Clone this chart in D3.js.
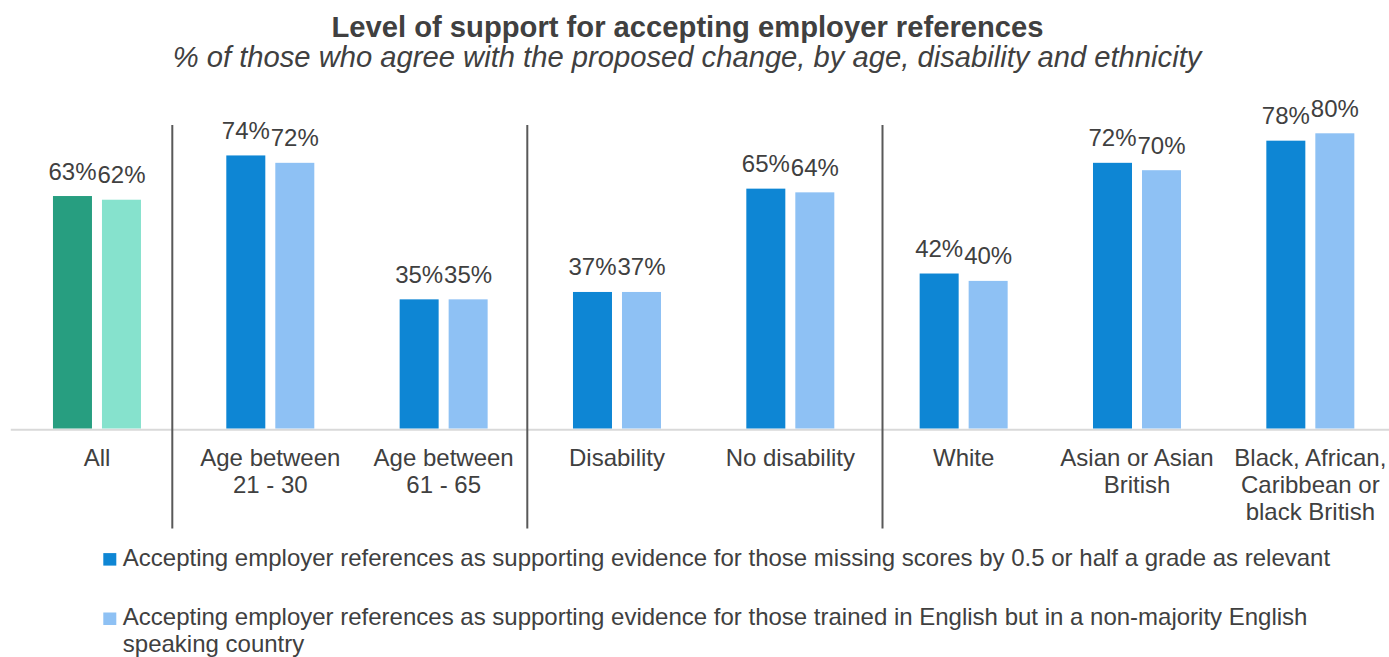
<!DOCTYPE html>
<html>
<head>
<meta charset="utf-8">
<script src="https://cdn.jsdelivr.net/npm/d3@7"></script>
<style>
  html, body { margin: 0; padding: 0; background: #fff; }
  svg { display: block; font-family: "Liberation Sans", Arial, Helvetica, sans-serif; }
</style>
</head>
<body>
<svg id="chart" width="1389" height="657"></svg>
<script>
// ---- data ----
const categories = [
  "All",
  "Age between\n21 - 30",
  "Age between\n61 - 65",
  "Disability",
  "No disability",
  "White",
  "Asian or Asian\nBritish",
  "Black, African,\nCaribbean or\nblack British"
];
const missingScores   = [63, 74, 35, 37, 65, 42, 72, 78];
const trainedEnglish  = [62, 72, 35, 37, 64, 40, 70, 80];
const seriesNames = [
  "Accepting employer references as supporting evidence for those missing scores by 0.5 or half a grade as relevant",
  "Accepting employer references as supporting evidence for those trained in English but in a non-majority English speaking country"
];
const titleText = "Level of support for accepting employer references";
const subtitleText = "% of those who agree with the proposed change, by age, disability and ethnicity";

// ---- styling ----
const TEXT = "#404040";
const COLORS = {
  overall: ["#279e80", "#86e2cd"],
  group:   ["#0e86d4", "#8ec1f4"]
};
const FONT = 24;

const svg = d3.select("#chart");
const plot = { left: 10.3, right: 1397, top: 59.5, bottom: 428.5 };

const x = d3.scaleBand().domain(categories).range([plot.left, plot.right]).padding(0);
const inner = d3.scaleBand().domain([0, 1]).range([0, 88]).paddingInner(0.204).paddingOuter(0);
const y = d3.scaleLinear().domain([0, 100]).range([plot.bottom, plot.top]);

// title block
svg.append("text")
  .attr("x", 687.5).attr("y", 37)
  .attr("text-anchor", "middle")
  .attr("font-size", 29.2).attr("font-weight", "bold")
  .attr("fill", TEXT)
  .text(titleText);
svg.append("text")
  .attr("x", 687).attr("y", 66.5)
  .attr("text-anchor", "middle")
  .attr("font-size", 29.2).attr("font-style", "italic")
  .attr("fill", TEXT)
  .text(subtitleText);

// category axis along the baseline
const axis = svg.append("g")
  .attr("transform", `translate(0,${plot.bottom + 0.8})`)
  .call(d3.axisBottom(x).tickSize(0).tickPadding(0));
axis.select(".domain").attr("stroke", "#d9d9d9").attr("stroke-width", 2);
axis.selectAll(".tick text").each(function(d) {
  const t = d3.select(this);
  t.text(null).attr("y", 0).attr("dy", null)
    .attr("font-size", FONT).attr("fill", TEXT)
    .attr("font-family", "Liberation Sans, Arial, sans-serif");
  d.split("\n").forEach((line, i) => {
    t.append("tspan").attr("x", 0).attr("y", 36.5 + i * 27).text(line);
  });
});

// group dividers
const DIVIDER_X = [172.3, 527.3, 882.5];
svg.append("g").selectAll("line").data(DIVIDER_X).join("line")
  .attr("x1", d => d).attr("x2", d => d)
  .attr("y1", 125).attr("y2", 528.5)
  .attr("stroke", "#595959").attr("stroke-width", 2);

// bars + value labels
const rows = categories.map((c, i) => ({
  cat: c,
  idx: i,
  values: [missingScores[i], trainedEnglish[i]]
}));

const groups = svg.append("g").selectAll("g").data(rows).join("g")
  .attr("transform", d => `translate(${x(d.cat) + x.bandwidth() / 2 - 44},0)`);

groups.selectAll("rect")
  .data(d => d.values.map((v, s) => ({ v, s, pal: d.idx === 0 ? COLORS.overall : COLORS.group })))
  .join("rect")
  .attr("x", d => inner(d.s))
  .attr("width", inner.bandwidth())
  .attr("y", d => y(d.v))
  .attr("height", d => y(0) - y(d.v))
  .attr("fill", d => d.pal[d.s]);

groups.selectAll("text.val")
  .data(d => d.values.map((v, s) => ({ v, s })))
  .join("text")
  .attr("class", "val")
  .attr("x", d => inner(d.s) + inner.bandwidth() / 2)
  .attr("y", d => y(d.v) - 16.5)
  .attr("text-anchor", "middle")
  .attr("font-size", FONT)
  .attr("fill", TEXT)
  .text(d => d.v + "%");

// legend
const legend = svg.append("g").attr("transform", "translate(103.3,0)");
const legendRows = [565.6, 625];
const maxLineWidth = 1250;
seriesNames.forEach((name, s) => {
  const base = legendRows[s];
  legend.append("rect")
    .attr("x", 0).attr("y", base - 12.5)
    .attr("width", 13).attr("height", 12.5)
    .attr("fill", COLORS.group[s]);
  const t = legend.append("text")
    .attr("x", 19.5).attr("y", base)
    .attr("font-size", FONT).attr("fill", TEXT);
  // wrap words onto lines that fit the legend width
  const words = name.split(" ");
  let line = [];
  let lineNo = 0;
  let tspan = t.append("tspan").attr("x", 19.5).attr("y", base);
  words.forEach(w => {
    line.push(w);
    tspan.text(line.join(" "));
    if (tspan.node().getComputedTextLength() > maxLineWidth && line.length > 1) {
      line.pop();
      tspan.text(line.join(" "));
      line = [w];
      lineNo += 1;
      tspan = t.append("tspan").attr("x", 19.5).attr("y", base + lineNo * 26.7).text(w);
    }
  });
});
</script>
</body>
</html>
